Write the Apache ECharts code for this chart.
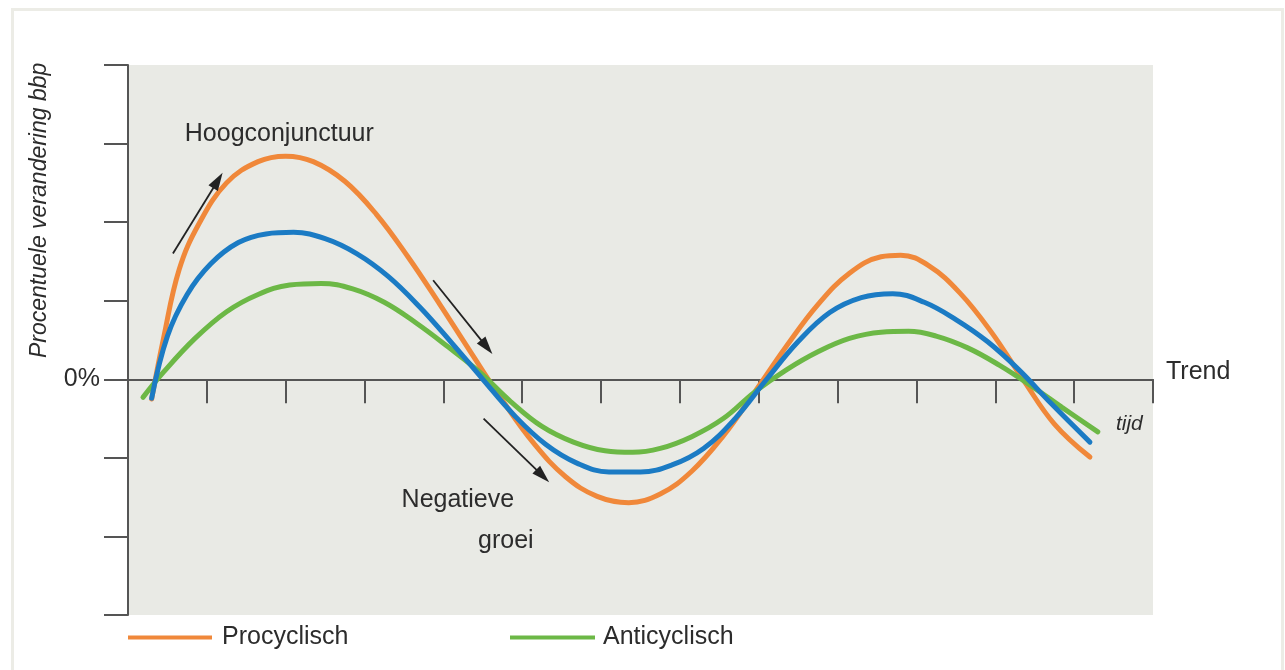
<!DOCTYPE html>
<html>
<head>
<meta charset="utf-8">
<script src="https://cdn.jsdelivr.net/npm/echarts@6/dist/echarts.min.js"></script>
<style>
html,body{margin:0;padding:0;background:#fff;}
#chart{width:1285px;height:670px;}
</style>
</head>
<body>
<div id="chart"></div>
<script>
// time (x) and percentage change (y)
const procyclisch = [
  [0.30,-0.25],[0.45,0.52],[0.65,1.40],[0.90,1.98],[1.25,2.50],[1.65,2.77],[2.00,2.84],
  [2.35,2.77],[2.75,2.52],[3.15,2.10],[3.55,1.56],[3.95,0.96],[4.35,0.34],[4.75,-0.27],
  [5.15,-0.82],[5.55,-1.24],[5.95,-1.49],[6.35,-1.57],[6.75,-1.46],[7.15,-1.17],[7.55,-0.72],
  [7.95,-0.16],[8.35,0.42],[8.75,0.95],[9.15,1.35],[9.55,1.56],[9.80,1.58],[10.15,1.45],
  [10.55,1.10],[10.95,0.60],[11.35,0.00],[11.75,-0.57],[12.20,-0.99]
];
const acyclisch = [
  [0.30,-0.24],[0.50,0.55],[0.75,1.08],[1.05,1.47],[1.40,1.74],[1.75,1.85],[2.10,1.87],
  [2.50,1.79],[2.90,1.60],[3.30,1.31],[3.70,0.92],[4.10,0.47],[4.50,0.00],[4.90,-0.46],
  [5.30,-0.83],[5.70,-1.07],[6.10,-1.18],[6.50,-1.18],[6.90,-1.09],[7.30,-0.88],[7.70,-0.50],
  [8.10,0.00],[8.50,0.48],[8.90,0.85],[9.30,1.04],[9.70,1.09],[10.10,0.98],[10.50,0.76],
  [10.90,0.48],[11.30,0.12],[11.70,-0.30],[12.20,-0.80]
];
const anticyclisch = [
  [0.19,-0.23],[0.45,0.09],[0.85,0.52],[1.25,0.86],[1.65,1.08],[2.05,1.20],[2.45,1.22],
  [2.85,1.15],[3.25,0.98],[3.65,0.72],[4.05,0.42],[4.45,0.10],[4.85,-0.28],[5.25,-0.60],
  [5.65,-0.80],[6.05,-0.91],[6.40,-0.93],[6.75,-0.88],[7.15,-0.73],[7.55,-0.50],[7.95,-0.16],
  [8.35,0.12],[8.75,0.35],[9.15,0.52],[9.55,0.60],[9.90,0.61],[10.25,0.55],[10.65,0.40],
  [11.05,0.18],[11.45,-0.08],[11.85,-0.36],[12.30,-0.67]
];
const seriesNames = ['Procyclisch','Acyclisch','Anticyclisch'];
const legendNames = ['Procyclisch','Anticyclisch'];
const yTickLabels = {0:'0%'};
const axisNames = {x:'Trend', y:'Procentuele verandering bbp', t:'tijd'};
const arrows = [
  [[0.57,1.60],[1.14,2.53]],
  [[3.87,1.26],[4.55,0.41]],
  [[4.51,-0.50],[5.26,-1.23]]
];
const notes = [
  {text:'Hoogconjunctuur', at:[0.72,3.12]},
  {text:'Negatieve', at:[3.47,-1.54]},
  {text:'groei', at:[4.44,-2.06]}
];

const FONT = '"Liberation Sans", Arial, sans-serif';
const TXT = '#2c2c2c';
const chart = echarts.init(document.getElementById('chart'), null, {renderer:'canvas'});

const lineSeries = (name, data, color, z) => ({
  name, type:'line', data, smooth:0.4, showSymbol:false, symbol:'none',
  lineStyle:{color, width:5, cap:'round'}, itemStyle:{color}, z, silent:true
});

chart.setOption({
  backgroundColor:'#ffffff',
  animation:false,
  grid:{left:128, right:132, top:65, bottom:55, show:true, backgroundColor:'#e9eae5', borderWidth:0},
  legend:[
    {data:[legendNames[0]], left:128, top:625, padding:0, icon:'rect', itemWidth:84, itemHeight:4,
     textStyle:{fontSize:25, color:TXT, fontFamily:FONT, padding:[0,0,0,5]}, selectedMode:false},
    {data:[legendNames[1]], left:510, top:625, padding:0, icon:'rect', itemWidth:85, itemHeight:4,
     textStyle:{fontSize:25, color:TXT, fontFamily:FONT, padding:[0,0,0,3]}, selectedMode:false}
  ],
  xAxis:{
    type:'value', min:0, max:13, interval:1,
    name:axisNames.x, nameLocation:'end', nameGap:13,
    nameTextStyle:{fontSize:25, color:TXT, fontFamily:FONT, verticalAlign:'bottom', lineHeight:14},
    axisLine:{show:true, onZero:true, lineStyle:{color:'#555', width:2}},
    axisTick:{show:true, length:24, inside:false, lineStyle:{color:'#555', width:2}},
    axisLabel:{show:false}, splitLine:{show:false}
  },
  yAxis:{
    type:'value', min:-3, max:4, interval:1,
    axisLine:{show:true, onZero:false, lineStyle:{color:'#555', width:2}},
    axisTick:{show:true, length:24, inside:false, lineStyle:{color:'#555', width:2}},
    axisLabel:{show:true, margin:28, fontSize:25, color:TXT, fontFamily:FONT,
      formatter:v => (yTickLabels[v] !== undefined ? yTickLabels[v] : '')},
    splitLine:{show:false}
  },
  series:[
    lineSeries(seriesNames[0], procyclisch, '#f0883a', 3),
    lineSeries(seriesNames[2], anticyclisch, '#6cb846', 4),
    Object.assign(lineSeries(seriesNames[1], acyclisch, '#1b7bc4', 5), {
      markLine:{
        silent:true, symbol:['none','triangle'], symbolSize:[11,18], animation:false,
        lineStyle:{color:'#222', width:1.8, type:'solid'}, label:{show:false},
        data: arrows.map(a => [{coord:a[0]},{coord:a[1]}])
      }
    })
  ]
});

function px(p){ return chart.convertToPixel({gridIndex:0}, p); }
const graphics = [];
// outer frame
graphics.push({type:'rect', left:10, top:7, shape:{width:1270, height:680},
  style:{fill:'none', stroke:'#ecece6', lineWidth:3}, silent:true, z:-1});
notes.forEach(n => {
  const p = px(n.at);
  graphics.push({type:'text', x:p[0], y:p[1], style:{text:n.text, fontSize:25, fill:TXT,
    fontFamily:FONT, textAlign:'left', verticalAlign:'middle'}, z:10, silent:true});
});
const tp = px([12.53,-0.57]);
graphics.push({type:'text', x:tp[0], y:tp[1], style:{text:axisNames.t, fontSize:21, fontStyle:'italic',
  fill:TXT, fontFamily:FONT, textAlign:'left', verticalAlign:'middle'}, z:10, silent:true});
const yp = px([-1.12,2.15]);
graphics.push({type:'text', x:yp[0], y:yp[1], rotation:Math.PI/2, style:{text:axisNames.y, fontSize:23,
  fontStyle:'italic', fill:TXT, fontFamily:FONT, textAlign:'center', verticalAlign:'middle'}, z:10, silent:true});
chart.setOption({graphic:graphics});
</script>
</body>
</html>
